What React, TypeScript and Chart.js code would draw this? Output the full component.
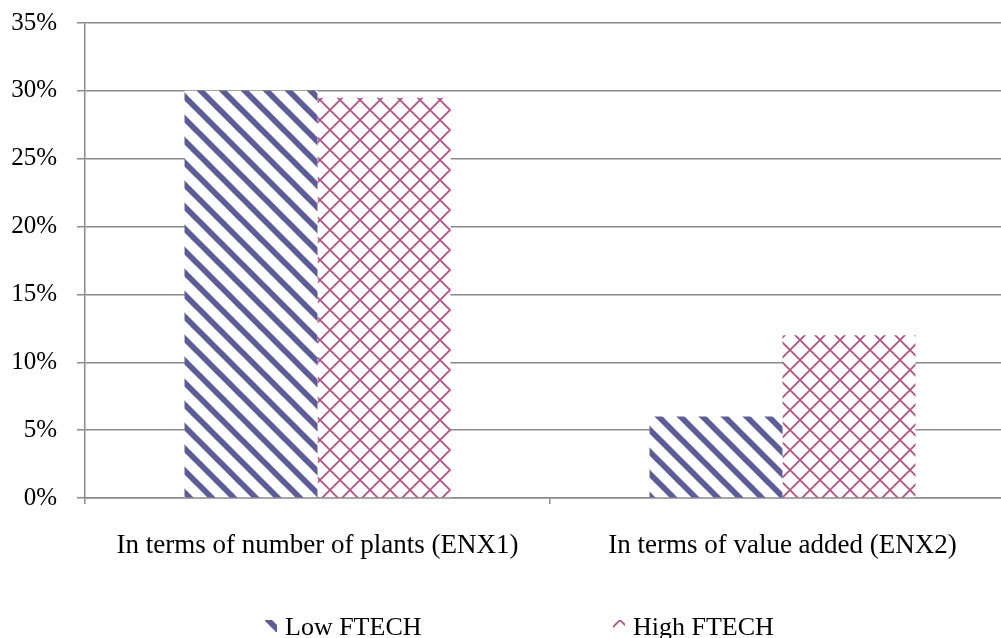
import React, { useEffect, useRef } from "react";
import { Chart, registerables } from "chart.js";

Chart.register(...registerables);

const categories = ["In terms of number of plants (ENX1)", "In terms of value added (ENX2)"];
const seriesNames = ["Low FTECH", "High FTECH"];
const lowFtech = [30, 6];
const highFtech = [29.5, 12];
const yTicks = [0, 5, 10, 15, 20, 25, 30, 35];

const FONT = '"Liberation Serif", "Times New Roman", serif';
const STRIPE_COLOR = "rgb(92, 92, 152)";
const CROSS_COLOR = "rgb(178, 82, 132)";

function stripePattern(ctx: CanvasRenderingContext2D): CanvasPattern | string {
  const p = 22;
  const tile = document.createElement("canvas");
  tile.width = p;
  tile.height = p;
  const t = tile.getContext("2d");
  if (!t) return STRIPE_COLOR;
  t.fillStyle = "#fff";
  t.fillRect(0, 0, p, p);
  t.strokeStyle = STRIPE_COLOR;
  t.lineWidth = 5.8;
  for (const x0 of [-p, 0, p]) {
    t.beginPath();
    t.moveTo(x0 - 2, -2);
    t.lineTo(x0 + p + 2, p + 2);
    t.stroke();
  }
  return ctx.createPattern(tile, "repeat") || STRIPE_COLOR;
}

function crossPattern(ctx: CanvasRenderingContext2D): CanvasPattern | string {
  const p = 20;
  const tile = document.createElement("canvas");
  tile.width = p;
  tile.height = p;
  const t = tile.getContext("2d");
  if (!t) return CROSS_COLOR;
  t.fillStyle = "#fff";
  t.fillRect(0, 0, p, p);
  t.strokeStyle = CROSS_COLOR;
  t.lineWidth = 1.8;
  t.beginPath();
  t.moveTo(-2, -2);
  t.lineTo(p + 2, p + 2);
  t.moveTo(p + 2, -2);
  t.lineTo(-2, p + 2);
  t.stroke();
  return ctx.createPattern(tile, "repeat") || CROSS_COLOR;
}

export default function App() {
  const ref = useRef<HTMLCanvasElement | null>(null);

  useEffect(() => {
    const canvas = ref.current;
    if (!canvas) return;
    const ctx = canvas.getContext("2d");
    if (!ctx) return;
    const fills = [stripePattern(ctx), crossPattern(ctx)];

    // legend drawn under the plot: pattern swatch followed by series name
    const legendPlugin = {
      id: "bottomLegend",
      afterDraw(chart: Chart) {
        const c = chart.ctx;
        const entries = [
          { swatch: 265, text: 285 },
          { swatch: 613, text: 633 },
        ];
        c.save();
        entries.forEach((e, i) => {
          c.fillStyle = fills[i] as any;
          c.fillRect(e.swatch, 620, 12, 12);
          c.fillStyle = "#000";
          c.font = `26px ${FONT}`;
          c.textBaseline = "alphabetic";
          c.textAlign = "left";
          c.fillText(seriesNames[i], e.text, 635);
        });
        c.restore();
      },
    };

    const chart = new Chart(ctx, {
      type: "bar",
      data: {
        labels: categories,
        datasets: [
          {
            label: seriesNames[0],
            data: lowFtech,
            backgroundColor: fills[0] as any,
            borderWidth: 0,
            categoryPercentage: 0.572,
            barPercentage: 1,
          },
          {
            label: seriesNames[1],
            data: highFtech,
            backgroundColor: fills[1] as any,
            borderWidth: 0,
            categoryPercentage: 0.572,
            barPercentage: 1,
          },
        ],
      },
      options: {
        responsive: false,
        animation: false,
        devicePixelRatio: 1,
        layout: { padding: { top: 23, right: 15, left: 0, bottom: 0 } },
        plugins: {
          legend: { display: false },
          tooltip: { enabled: false },
        },
        scales: {
          x: {
            grid: {
              display: true,
              drawOnChartArea: false,
              drawTicks: true,
              tickLength: 6,
              offset: true,
              color: "#8a8a8a",
              lineWidth: 1.5,
            },
            border: { display: true, color: "#8a8a8a", width: 1.5 },
            ticks: {
              color: "#000",
              font: { family: FONT, size: 27 },
              padding: 26,
              maxRotation: 0,
              autoSkip: false,
            },
            afterFit(axis: any) {
              axis.height = 140;
              axis.paddingLeft = 0;
              axis.paddingRight = 0;
            },
          },
          y: {
            min: 0,
            max: 35,
            afterBuildTicks(axis: any) {
              axis.ticks = yTicks.map((v) => ({ value: v }));
            },
            grid: {
              color: "#8a8a8a",
              lineWidth: 1.5,
              tickLength: 8,
              drawTicks: true,
            },
            border: { display: true, color: "#8a8a8a", width: 1.5 },
            ticks: {
              color: "#000",
              font: { family: FONT, size: 25 },
              padding: 20,
              callback: (v: any) => `${v}%`,
            },
            afterFit(axis: any) {
              axis.width = 85;
              axis.paddingTop = 0;
              axis.paddingBottom = 0;
            },
          },
        },
      },
      plugins: [legendPlugin],
    });

    return () => chart.destroy();
  }, []);

  return (
    <div
      style={{
        position: "fixed",
        left: 0,
        top: 0,
        width: 1001,
        height: 638,
        overflow: "hidden",
        background: "#fff",
      }}
    >
      <canvas ref={ref} width={1030} height={638} style={{ display: "block", width: 1030, height: 638 }} />
    </div>
  );
}
